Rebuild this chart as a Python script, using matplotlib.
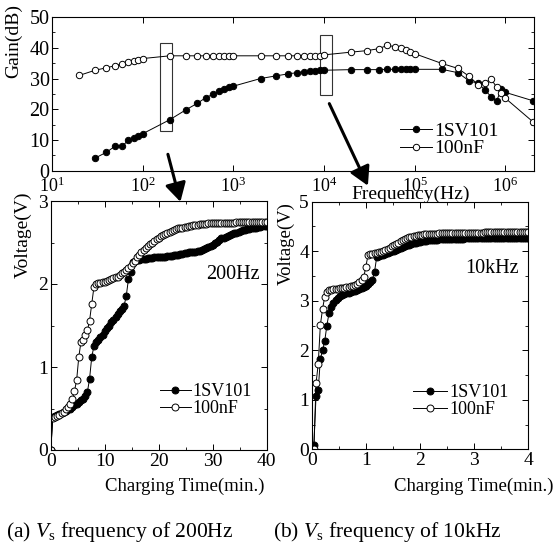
import numpy as np
import matplotlib
matplotlib.use('Agg')
import matplotlib.pyplot as plt
from matplotlib.patches import Rectangle
from matplotlib.ticker import MultipleLocator, LogLocator, NullLocator

# ---- frequency response (top) ----
freq_sv = [30, 40, 50, 60, 70, 80, 90, 100,
           200, 300, 400, 500, 600, 700, 800, 900, 1000,
           2000, 3000, 4000, 5000, 6000, 7000, 8000, 9000, 10000,
           20000, 30000, 40000, 50000, 60000, 70000, 80000, 90000, 100000,
           200000, 300000, 400000, 500000, 600000, 700000, 800000, 900000, 1000000,
           2000000]
gain_sv = [4.1, 6.0, 8.0, 8.0, 10.0, 10.5, 11.4, 12.0,
           16.6, 19.8, 21.9, 23.8, 24.9, 25.8, 26.6, 27.3, 27.5,
           30.0, 30.9, 31.5, 31.9, 32.2, 32.4, 32.6, 32.7, 32.7,
           32.9, 32.9, 32.9, 33.0, 33.0, 33.0, 33.0, 33.0, 33.0,
           33.0, 31.9, 29.2, 28.5, 26.2, 24.0, 22.6, 26.5, 25.5,
           22.8]
freq_nf = [20] + freq_sv
gain_nf = [31.0, 32.7, 33.5, 34.2, 34.8, 35.3, 35.7, 36.1, 36.5,
           37.4, 37.4, 37.4, 37.4, 37.4, 37.4, 37.4, 37.4, 37.4,
           37.4, 37.4, 37.4, 37.4, 37.4, 37.4, 37.4, 37.4, 37.7,
           38.6, 39.1, 39.7, 40.8, 40.4, 39.9, 39.3, 38.7, 38.1,
           34.9, 33.3, 30.7, 28.0, 28.6, 29.8, 27.2, 25.2, 23.6,
           16.0]

# ---- charging at 200 Hz (sampled every 0.4 min) ----
t200 = np.linspace(0, 40, 101)
sv200 = [0.00, 0.40, 0.41, 0.42, 0.43, 0.45, 0.46, 0.47, 0.49, 0.50,
         0.52, 0.54, 0.56, 0.58, 0.60, 0.62, 0.65, 0.70, 0.86, 1.12,
         1.25, 1.30, 1.33, 1.36, 1.39, 1.43, 1.47, 1.50, 1.54, 1.57,
         1.60, 1.64, 1.67, 1.70, 1.74, 1.86, 2.06, 2.14, 2.27, 2.28,
         2.29, 2.29, 2.30, 2.30, 2.30, 2.31, 2.31, 2.31, 2.32, 2.32,
         2.32, 2.33, 2.33, 2.33, 2.34, 2.34, 2.34, 2.35, 2.35, 2.35,
         2.36, 2.36, 2.37, 2.37, 2.38, 2.38, 2.39, 2.39, 2.40, 2.40,
         2.41, 2.42, 2.43, 2.44, 2.46, 2.47, 2.49, 2.51, 2.53, 2.55,
         2.56, 2.57, 2.58, 2.59, 2.60, 2.61, 2.62, 2.63, 2.64, 2.645,
         2.65, 2.66, 2.665, 2.67, 2.68, 2.68, 2.69, 2.69, 2.70, 2.70,
         2.70]
nf200 = [0.00, 0.38, 0.40, 0.41, 0.42, 0.44, 0.46, 0.49, 0.52, 0.55,
         0.61, 0.71, 0.84, 1.12, 1.30, 1.33, 1.38, 1.44, 1.56, 1.76,
         1.96, 2.00, 2.01, 2.01, 2.02, 2.03, 2.04, 2.05, 2.06, 2.07,
         2.08, 2.09, 2.11, 2.13, 2.15, 2.17, 2.19, 2.22, 2.25, 2.28,
         2.32, 2.35, 2.38, 2.41, 2.43, 2.46, 2.48, 2.50, 2.52, 2.54,
         2.56, 2.58, 2.59, 2.60, 2.62, 2.63, 2.64, 2.65, 2.66, 2.67,
         2.67, 2.68, 2.69, 2.69, 2.70, 2.70, 2.71, 2.71, 2.71, 2.72,
         2.72, 2.72, 2.72, 2.73, 2.73, 2.73, 2.73, 2.73, 2.74, 2.74,
         2.74, 2.74, 2.74, 2.74, 2.74, 2.74, 2.75, 2.75, 2.75, 2.75,
         2.75, 2.75, 2.75, 2.75, 2.75, 2.75, 2.75, 2.75, 2.75, 2.75,
         2.75]

# ---- charging at 10 kHz (sampled every 0.04 min) ----
t10k = np.linspace(0, 4, 101)
sv10k = [0.00, 0.08, 1.08, 1.20, 1.82, 2.00, 2.18, 2.50, 2.75, 2.88,
         2.96, 3.02, 3.06, 3.09, 3.11, 3.13, 3.15, 3.16, 3.17, 3.19,
         3.20, 3.22, 3.23, 3.25, 3.27, 3.30, 3.33, 3.38, 3.42, 3.58,
         3.88, 3.90, 3.92, 3.93, 3.95, 3.96, 3.98, 4.00, 4.01, 4.03,
         4.05, 4.07, 4.08, 4.10, 4.12, 4.13, 4.15, 4.16, 4.17, 4.18,
         4.19, 4.20, 4.21, 4.21, 4.22, 4.22, 4.23, 4.23, 4.23, 4.24,
         4.24, 4.24, 4.24, 4.25, 4.25, 4.25, 4.25, 4.25, 4.25, 4.25,
         4.25, 4.26, 4.26, 4.26, 4.26, 4.26, 4.26, 4.26, 4.26, 4.26,
         4.26, 4.26, 4.26, 4.26, 4.26, 4.26, 4.27, 4.27, 4.27, 4.27,
         4.27, 4.27, 4.27, 4.27, 4.27, 4.27, 4.27, 4.27, 4.27, 4.27,
         4.27]
nf10k = [0.00, 0.00, 1.33, 1.72, 2.51, 2.83, 3.08, 3.17, 3.21, 3.22,
         3.23, 3.24, 3.24, 3.25, 3.25, 3.26, 3.27, 3.28, 3.29, 3.30,
         3.32, 3.34, 3.37, 3.42, 3.47, 3.69, 3.92, 3.95, 3.95, 3.96,
         3.97, 3.98, 3.99, 4.01, 4.03, 4.05, 4.07, 4.10, 4.12, 4.15,
         4.17, 4.20, 4.22, 4.24, 4.26, 4.28, 4.29, 4.30, 4.31, 4.32,
         4.33, 4.33, 4.34, 4.34, 4.35, 4.35, 4.35, 4.35, 4.35, 4.36,
         4.36, 4.36, 4.36, 4.36, 4.36, 4.36, 4.36, 4.37, 4.37, 4.37,
         4.37, 4.37, 4.37, 4.37, 4.37, 4.37, 4.37, 4.37, 4.37, 4.37,
         4.38, 4.38, 4.38, 4.38, 4.38, 4.38, 4.38, 4.38, 4.38, 4.38,
         4.38, 4.38, 4.38, 4.38, 4.38, 4.39, 4.39, 4.39, 4.39, 4.39,
         4.39]

labels = ['1SV101', '100nF']

plt.rcParams['font.family'] = ['Liberation Serif', 'DejaVu Serif']
plt.rcParams['mathtext.fontset'] = 'custom'
plt.rcParams['mathtext.rm'] = 'Liberation Serif'
plt.rcParams['mathtext.it'] = 'Liberation Serif:italic'
plt.rcParams['axes.linewidth'] = 0.8
plt.rcParams['xtick.direction'] = 'in'
plt.rcParams['ytick.direction'] = 'in'
plt.rcParams['xtick.top'] = True
plt.rcParams['ytick.right'] = True

W, H = 556, 552
fig = plt.figure(figsize=(W / 100, H / 100), dpi=100)


def fx(px):
    return px / W


def fy(py):
    return 1 - py / H


def style(ax, size):
    ax.tick_params(which='major', length=4, width=0.7, labelsize=size, pad=2)
    ax.tick_params(which='minor', length=2.2, width=0.6)


filled = dict(color='k', lw=0.7, marker='o', ms=4.6, mfc='k', mec='k', mew=0.7)
hollow = dict(color='k', lw=0.7, marker='o', ms=4.6, mfc='white', mec='k', mew=0.7)
filled_b = dict(filled, ms=5.0)
hollow_b = dict(hollow, ms=5.0)

# top
ax0 = fig.add_axes([fx(51.8), fy(170.7), fx(534 - 51.8), (170.7 - 17.1) / H])
ax0.plot(freq_sv, gain_sv, label=labels[0], **filled)
ax0.plot(freq_nf, gain_nf, label=labels[1], **hollow)
ax0.set_xscale('log')
ax0.set_xlim(10, 2.07e6)
ax0.set_ylim(0, 50)
ax0.xaxis.set_major_locator(LogLocator(base=10, numticks=10))
ax0.xaxis.set_minor_locator(NullLocator())
ax0.yaxis.set_major_locator(MultipleLocator(10))
ax0.yaxis.set_minor_locator(MultipleLocator(5))
style(ax0, 13)
ax0.tick_params(axis='y', labelsize=14.5, pad=1.5)
ax0.tick_params(axis='x', pad=4)
ax0.add_patch(Rectangle((155, 12.8), 211 - 155, 41.6 - 12.8, fill=False, lw=0.8, ec='#333333'))
ax0.add_patch(Rectangle((8980, 24.8), 12300 - 8980, 44.3 - 24.8, fill=False, lw=0.8, ec='#333333'))
ax0.legend(loc='center left', bbox_to_anchor=(fx(400), fy(139.8)), bbox_transform=fig.transFigure,
           frameon=False, fontsize=14, borderpad=0, borderaxespad=0, handlelength=1.65,
           handletextpad=0.1, labelspacing=0.0, numpoints=1)

# bottom left
ax1 = fig.add_axes([fx(50.7), fy(450), fx(216), 249 / H])
ax1.plot(t200, sv200, label=labels[0], **filled_b)
ax1.plot(t200, nf200, label=labels[1], **hollow_b)
ax1.set_xlim(0, 40)
ax1.set_ylim(0, 3)
ax1.xaxis.set_major_locator(MultipleLocator(10))
ax1.xaxis.set_minor_locator(MultipleLocator(5))
ax1.yaxis.set_major_locator(MultipleLocator(1))
ax1.yaxis.set_minor_locator(MultipleLocator(0.5))
style(ax1, 14)
ax1.text(38.8, 2.11, '200Hz', fontsize=14.5, ha='right', va='center')
ax1.legend(loc='center left', bbox_to_anchor=(fx(160), fy(400)), bbox_transform=fig.transFigure,
           frameon=False, fontsize=13, borderpad=0, borderaxespad=0, handlelength=1.7,
           handletextpad=0.1, labelspacing=0.0, numpoints=1)

# bottom right
ax2 = fig.add_axes([fx(311.7), fy(449.3), fx(216.6), 247.6 / H])
ax2.plot(t10k, sv10k, label=labels[0], **filled_b)
ax2.plot(t10k, nf10k, label=labels[1], **hollow_b)
ax2.set_xlim(0, 4)
ax2.set_ylim(0, 5)
ax2.xaxis.set_major_locator(MultipleLocator(1))
ax2.xaxis.set_minor_locator(MultipleLocator(0.5))
ax2.yaxis.set_major_locator(MultipleLocator(1))
ax2.yaxis.set_minor_locator(MultipleLocator(0.5))
style(ax2, 14)
ax2.text(3.83, 3.65, '10kHz', fontsize=14.5, ha='right', va='center')
ax2.legend(loc='center left', bbox_to_anchor=(fx(413), fy(401.3)), bbox_transform=fig.transFigure,
           frameon=False, fontsize=13, borderpad=0, borderaxespad=0, handlelength=1.9,
           handletextpad=0.1, labelspacing=0.0, numpoints=1)

# labels
fig.text(fx(14), fy(41), 'Gain(dB)', rotation=90, fontsize=14, ha='center', va='center')
fig.text(fx(411), fy(194), 'Frequency(Hz)', fontsize=14, ha='center', va='center')
fig.text(fx(23), fy(235), 'Voltage(V)', rotation=90, fontsize=14, ha='center', va='center')
fig.text(fx(286), fy(243.5), 'Voltage(V)', rotation=90, fontsize=13.5, ha='center', va='center')
fig.text(fx(185), fy(486), 'Charging Time(min.)', fontsize=13.5, ha='center', va='center')
fig.text(fx(474), fy(486), 'Charging Time(min.)', fontsize=13.5, ha='center', va='center')
fig.text(fx(119.6), fy(532.5), r'(a) $V_{\rm s}$ frequency of 200Hz', fontsize=15.5, ha='center', va='center')
fig.text(fx(387.5), fy(532.5), r'(b) $V_{\rm s}$ frequency of 10kHz', fontsize=15.5, ha='center', va='center')

# arrows from the boxes down to the panels
arrow = dict(arrowstyle='-|>,head_length=0.8,head_width=0.45', lw=2.2, color='k',
             shrinkA=0, shrinkB=0, mutation_scale=14)
ax0.annotate('', xy=(fx(180.4), fy(201.8)), xytext=(fx(167.9), fy(154.3)),
             xycoords='figure fraction', textcoords='figure fraction', arrowprops=arrow,
             annotation_clip=False)
ax0.annotate('', xy=(fx(367.9), fy(185.7)), xytext=(fx(329.3), fy(103.6)),
             xycoords='figure fraction', textcoords='figure fraction', arrowprops=arrow,
             annotation_clip=False)

fig.savefig('out.png', dpi=100)
